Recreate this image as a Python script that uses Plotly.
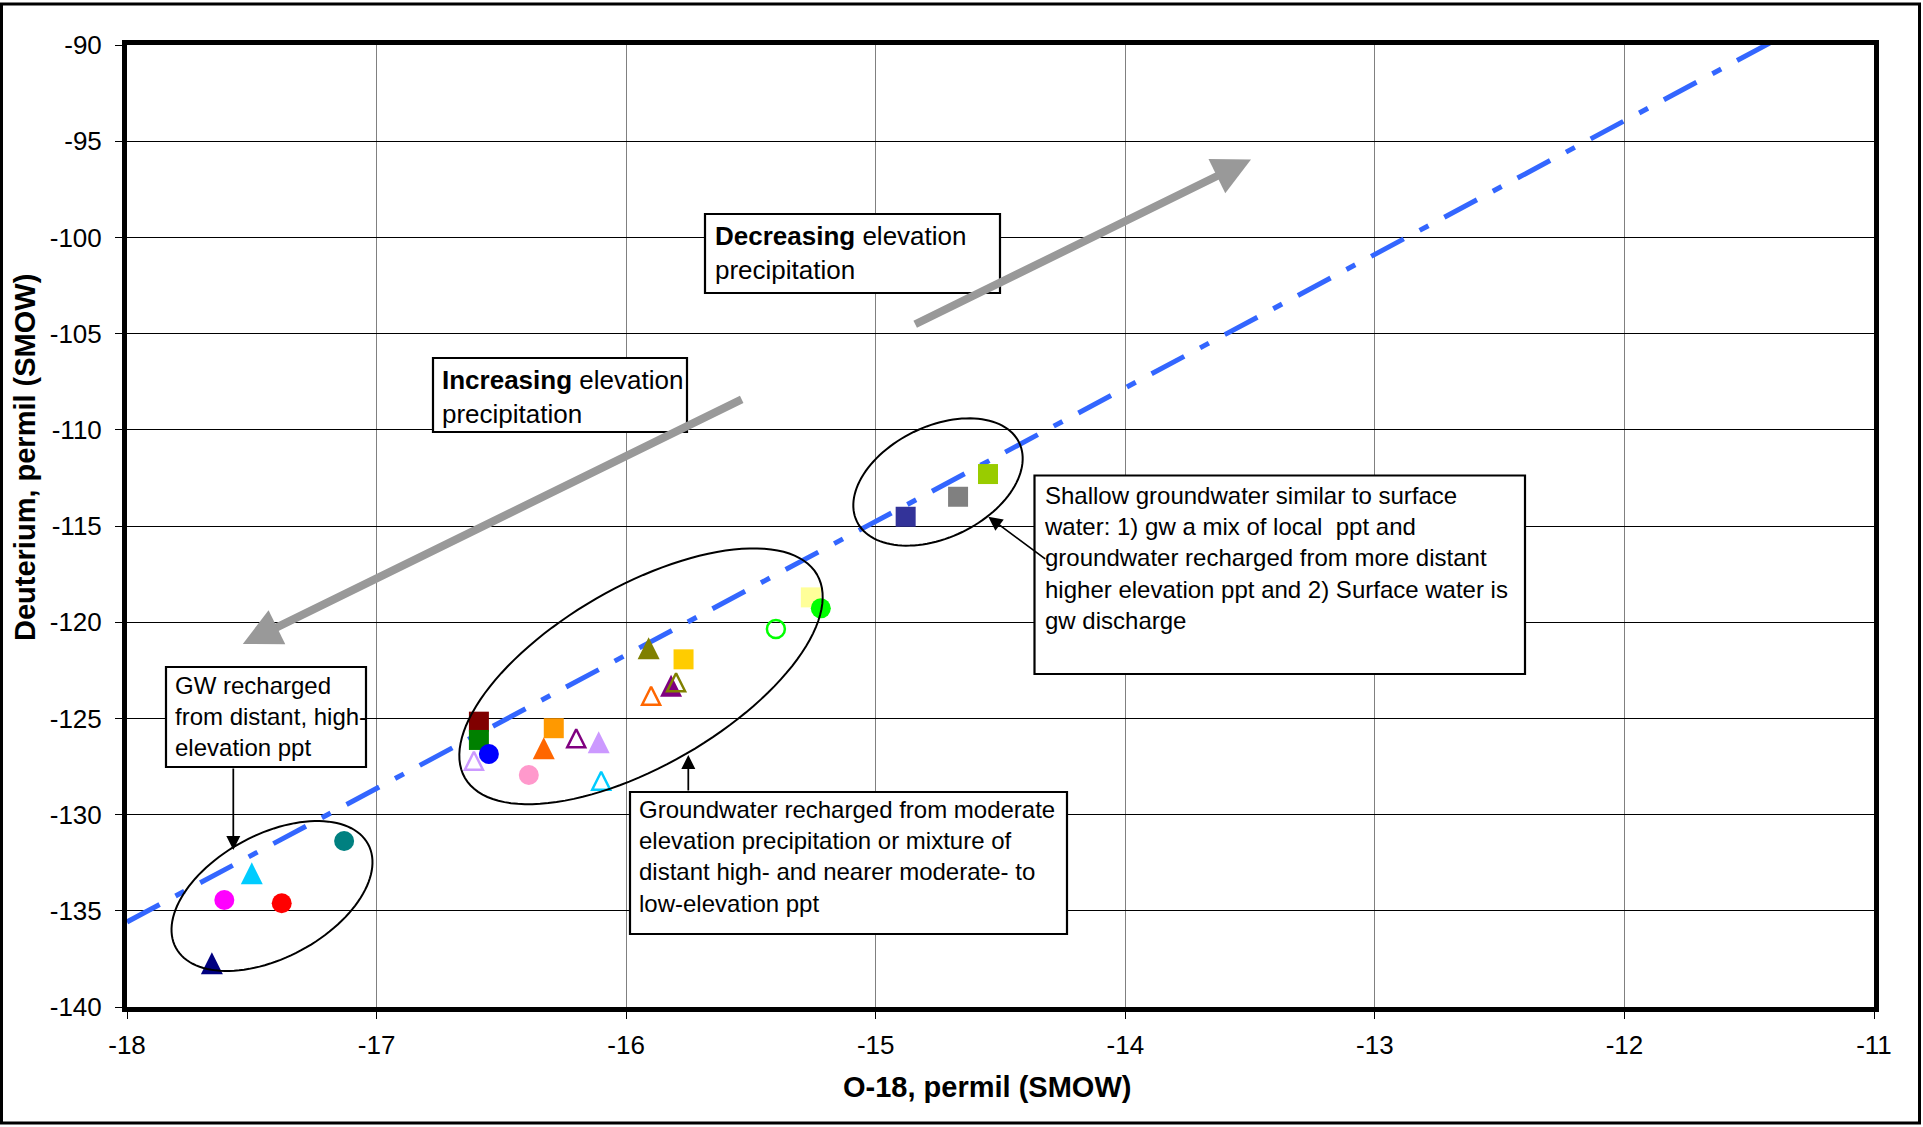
import numpy as np
import plotly.graph_objects as go

# ---------------- data ----------------
o18 = [-16.59, -16.59, -16.55, -16.61, -16.39, -16.33, -16.29, -16.20, -16.11, -16.10,
       -15.91, -15.77, -15.82, -15.80, -15.90, -15.40, -15.26, -15.22,
       -17.13, -17.50, -17.61, -17.38, -17.66,
       -14.88, -14.67, -14.55]
deuterium = [-125.17, -126.12, -126.85, -127.20, -127.94, -126.55, -125.51, -126.03, -126.24, -128.24,
             -121.36, -121.93, -123.30, -123.12, -123.82, -120.35, -118.71, -119.28,
             -131.37, -133.05, -134.44, -134.61, -137.73,
             -114.52, -113.48, -112.30]

# meteoric water line (dash-dot) end points
mwl_o18 = [-18.0, -11.35]
mwl_deut = [-135.58, -89.43]

x_tick_vals = [-18, -17, -16, -15, -14, -13, -12, -11]
x_tick_text = ["-18", "-17", "-16", "-15", "-14", "-13", "-12", "-11"]
y_tick_vals = [-140, -135, -130, -125, -120, -115, -110, -105, -100, -95, -90]
y_tick_text = ["-140", "-135", "-130", "-125", "-120", "-115", "-110", "-105", "-100", "-95", "-90"]

# ---------------- styles ----------------
marker_symbols = ["square", "square", "circle", "tri-open", "circle", "tri", "square",
                  "tri-open", "tri", "tri-open",
                  "tri", "square", "tri", "tri-open", "tri-open",
                  "circle-open", "square", "circle",
                  "circle", "tri", "circle", "circle", "tri",
                  "square", "square", "square"]
marker_colors = ["#800000", "#008000", "#0000FF", "#CC99FF", "#FF99CC", "#FF6600", "#FF9900",
                 "#800080", "#CC99FF", "#00CCFF",
                 "#808000", "#FFCC00", "#800080", "#808000", "#FF6600",
                 "#00FF00", "#FFFF99", "#00FF00",
                 "#008080", "#00CCFF", "#FF00FF", "#FF0000", "#000080",
                 "#333399", "#808080", "#99CC00"]

FONT = "Liberation Sans, Arial, sans-serif"
W, H = 1923, 1127
L, R, T, B = 127, 1874, 45, 1007
X0, X1, Y0, Y1 = -18, -11, -140, -90


def to_x(px):
    return X0 + (px - L) / (R - L) * (X1 - X0)


def to_y(py):
    return Y1 - (py - T) / (B - T) * (Y1 - Y0)


def paper_x(px):
    return (px - L) / (R - L)


def paper_y(py):
    return (B - py) / (B - T)


def ellipse_path(cx, cy, a, b, deg, n=120):
    phi = np.radians(deg)
    t = np.linspace(0, 2 * np.pi, n, endpoint=False)
    px = cx + a * np.cos(t) * np.cos(phi) - b * np.sin(t) * np.sin(phi)
    py = cy - (a * np.cos(t) * np.sin(phi) + b * np.sin(t) * np.cos(phi))
    pts = [f"{to_x(x):.5f},{to_y(y):.5f}" for x, y in zip(px, py)]
    return "M" + " L".join(pts) + " Z"


fig = go.Figure()

fig.add_trace(go.Scatter(x=mwl_o18, y=mwl_deut, mode="lines",
                         line=dict(color="#3366FF", width=5, dash="37px,18px,10px,18px"),
                         hoverinfo="skip", showlegend=False))

for xv, yv, sym, col in zip(o18, deuterium, marker_symbols, marker_colors):
    if sym == "tri":
        # upward triangle (arrow-down rotated 180 deg, centred on the point)
        mk = dict(symbol="arrow-down", angle=180, size=22, standoff=11, color=col,
                  line=dict(width=0, color=col))
    elif sym == "tri-open":
        mk = dict(symbol="arrow-down-open", angle=180, size=18, standoff=9, color=col,
                  line=dict(width=2.5, color=col))
    elif sym.endswith("open"):
        mk = dict(symbol=sym, size=18, color=col, line=dict(width=2.5, color=col))
    else:
        mk = dict(symbol=sym, size=20, color=col, line=dict(width=0, color=col))
    fig.add_trace(go.Scatter(x=[xv], y=[yv], mode="markers", showlegend=False, marker=mk))

shapes = []
# ellipses
for cx, cy, a, b, deg in [(272, 896, 109.2, 61.6, 28.3),
                          (641, 676.3, 203.3, 89.7, 30.0),
                          (938, 482, 90.2, 55.6, 25.9)]:
    shapes.append(dict(type="path", xref="x", yref="y", path=ellipse_path(cx, cy, a, b, deg),
                       line=dict(color="black", width=2)))

# text boxes (pixel rectangles)
boxes = [(705, 214, 1000, 293), (433, 358, 687, 432), (1034.5, 475.5, 1525, 674),
         (630, 792, 1067, 934), (166, 667, 366, 767)]
for x0, y0, x1, y1 in boxes:
    shapes.append(dict(type="rect", xref="x", yref="y",
                       x0=to_x(x0), x1=to_x(x1), y0=to_y(y1), y1=to_y(y0),
                       fillcolor="white", line=dict(color="black", width=2.2)))

# outer chart frame
shapes.append(dict(type="rect", xref="paper", yref="paper",
                   x0=paper_x(1.5), x1=paper_x(1919.5), y0=paper_y(1123), y1=paper_y(4),
                   line=dict(color="black", width=3), fillcolor="rgba(0,0,0,0)"))

annotations = []
box_texts = [
    ("<b>Decreasing</b> elevation<br>precipitation", 713, 253, 26),
    ("<b>Increasing</b> elevation<br>precipitation", 440, 397, 26),
    ("Shallow groundwater similar to surface<br>water: 1) gw a mix of local  ppt and<br>"
     "groundwater recharged from more distant<br>higher elevation ppt and 2) Surface water is<br>gw discharge",
     1042, 558, 24),
    ("Groundwater recharged from moderate<br>elevation precipitation or mixture of<br>"
     "distant high- and nearer moderate- to<br>low-elevation ppt", 637, 856, 24),
    ("GW recharged<br>from distant, high-<br>elevation ppt", 173, 716, 24),
]
for txt, px, py, fs in box_texts:
    annotations.append(dict(text=txt, xref="x", yref="y", x=to_x(px), y=to_y(py),
                            xanchor="left", yanchor="middle", align="left", showarrow=False,
                            font=dict(family=FONT, size=fs, color="black")))

# gray trend arrows (head, tail)
for hx, hy, tx, ty in [(1251, 159.4, 913.7, 325), (242.8, 644, 743.2, 398.6)]:
    annotations.append(dict(text="", xref="x", yref="y", axref="x", ayref="y",
                            x=to_x(hx), y=to_y(hy), ax=to_x(tx), ay=to_y(ty),
                            showarrow=True, arrowhead=2, arrowsize=0.95, arrowwidth=8,
                            arrowcolor="#999999"))

# black pointer arrows
for hx, hy, tx, ty in [(233.3, 850, 233.3, 767), (688.3, 755, 688.3, 792),
                       (988.3, 516.7, 1046.7, 560)]:
    annotations.append(dict(text="", xref="x", yref="y", axref="x", ayref="y",
                            x=to_x(hx), y=to_y(hy), ax=to_x(tx), ay=to_y(ty),
                            showarrow=True, arrowhead=2, arrowsize=1.6, arrowwidth=1.75,
                            arrowcolor="black"))

# axis titles
annotations.append(dict(text="<b>O-18, permil (SMOW)</b>", xref="paper", yref="paper",
                        x=paper_x(987), y=paper_y(1087), xanchor="center", yanchor="middle",
                        showarrow=False, font=dict(family=FONT, size=29, color="black")))
annotations.append(dict(text="<b>Deuterium, permil (SMOW)</b>", xref="paper", yref="paper",
                        x=paper_x(25), y=paper_y(458), xanchor="center", yanchor="middle",
                        textangle=-90, showarrow=False,
                        font=dict(family=FONT, size=29, color="black")))

axis_common = dict(showline=True, mirror=True, linecolor="black", linewidth=5,
                   ticks="outside", ticklen=7, tickwidth=1, tickcolor="black",
                   showgrid=True, gridwidth=1, zeroline=False,
                   tickfont=dict(family=FONT, size=26, color="black"))

fig.update_layout(
    width=W, height=H,
    margin=dict(l=L, r=W - R, t=T, b=H - B, pad=0),
    paper_bgcolor="white", plot_bgcolor="white",
    showlegend=False,
    xaxis=dict(range=[X0, X1], tickvals=x_tick_vals, ticktext=x_tick_text,
               gridcolor="#808080", ticklabelstandoff=4, **axis_common),
    yaxis=dict(range=[Y0, Y1], tickvals=y_tick_vals, ticktext=y_tick_text,
               gridcolor="#000000", ticklabelstandoff=8, **axis_common),
    shapes=shapes,
    annotations=annotations,
)

fig.write_html("out.html", config={"displayModeBar": False},
               post_script="document.body.style.margin='0';document.body.style.overflow='hidden';")
